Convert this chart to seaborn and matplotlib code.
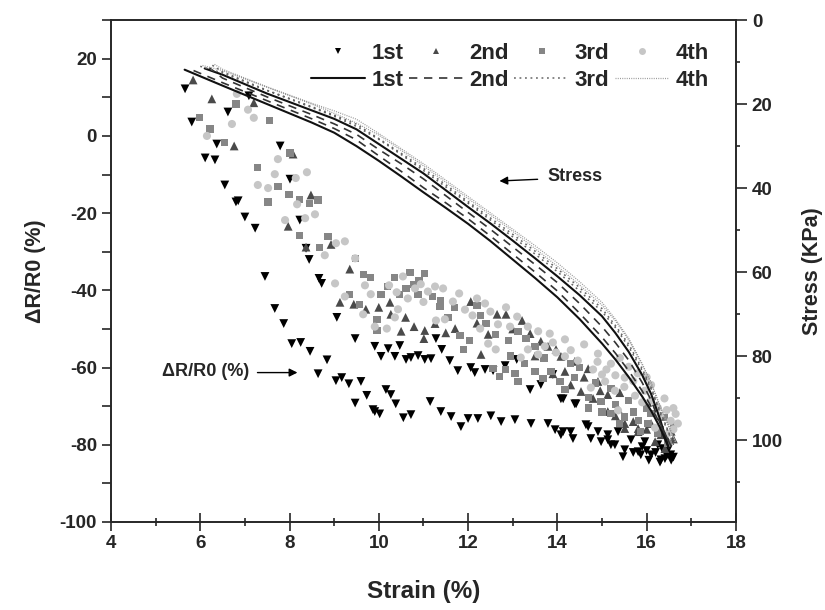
import matplotlib
matplotlib.use("Agg")
import matplotlib.pyplot as plt
from matplotlib.lines import Line2D
from matplotlib.ticker import MultipleLocator
import seaborn as sns
import pandas as pd

# ---------------- data ----------------
# dR/R0 (%) vs strain (%) for four cycles: (strain, dR/R0)
cycle1_pts = [
    (5.66, 12.2), (5.81, 3.6), (6.11, -5.7), (6.33, -6.2), (6.37, -2.1), (6.62, 6.2), (7.09, 10.4),
    (6.55, -12.7), (6.80, -17.1), (6.85, -16.8), (7.00, -21.0), (7.23, -23.9), (7.79, -2.6),
    (8.01, -11.2), (8.23, -21.8), (8.37, -29.1), (8.44, -32.0), (8.66, -36.9), (8.72, -38.2),
    (7.45, -36.4), (7.67, -44.7), (7.87, -48.6), (8.05, -53.8), (8.25, -53.5), (8.46, -55.8),
    (8.64, -61.6), (8.84, -58.0), (9.04, -63.4), (9.17, -62.6), (9.33, -64.2), (9.60, -63.6),
    (9.73, -67.2), (9.47, -69.2), (9.87, -70.9), (10.02, -72.0), (10.16, -65.7), (10.27, -67.0),
    (10.38, -69.4), (9.06, -47.0), (9.47, -52.5), (9.91, -54.5), (10.05, -57.1), (10.21, -55.1),
    (10.36, -57.1), (10.47, -54.3), (10.61, -57.9), (10.72, -57.4), (10.88, -56.9), (11.03, -57.9),
    (11.17, -57.7), (11.28, -52.5), (11.41, -55.3), (11.59, -58.2), (11.77, -60.8), (12.06, -60.0),
    (12.15, -61.3), (12.38, -60.5), (12.56, -60.8), (12.83, -59.5), (13.09, -57.9), (13.39, -65.7),
    (13.63, -64.4), (13.90, -61.8), (14.08, -68.1), (14.13, -68.1), (14.42, -69.4), (14.39, -69.4),
    (14.69, -75.3), (14.91, -76.6), (15.13, -77.4), (15.36, -76.6), (15.65, -78.7), (15.96, -79.2),
    (16.25, -80.0), (16.48, -81.3), (9.91, -71.4), (10.55, -73.0), (10.72, -72.2), (11.15, -68.8),
    (11.39, -71.4), (11.62, -72.7), (11.84, -75.3), (12.00, -73.2), (12.22, -73.2), (12.51, -72.5),
    (12.74, -74.0), (13.05, -73.5), (13.41, -74.5), (13.79, -74.5), (13.95, -76.1), (14.08, -77.4),
    (14.30, -76.6), (14.13, -76.6), (14.35, -78.4), (14.64, -74.8), (14.75, -78.4), (14.98, -79.2),
    (15.13, -78.7), (15.20, -80.0), (15.29, -80.0), (15.47, -83.1), (15.51, -81.3), (15.70, -82.0),
    (15.81, -81.8), (15.87, -82.6), (15.90, -80.5), (16.00, -81.5), (16.05, -84.0), (16.10, -82.6),
    (16.20, -82.0), (16.30, -84.5), (16.32, -83.9), (16.35, -81.0), (16.41, -83.6), (16.45, -82.8),
    (16.54, -82.6), (16.55, -84.0), (16.60, -83.2),
]
cycle2_pts = [
    (5.84, 14.5), (6.26, 9.6), (7.20, 8.6), (6.76, -2.6), (8.08, -4.7), (8.48, -15.3), (7.97, -23.4),
    (8.37, -28.8), (8.93, -28.1), (9.35, -34.5), (9.13, -43.1), (9.44, -43.6), (9.71, -44.9),
    (10.00, -44.4), (10.25, -43.1), (10.27, -46.2), (10.50, -50.6), (10.79, -49.4), (11.03, -50.4),
    (11.01, -52.5), (11.26, -48.6), (11.71, -49.9), (12.06, -42.9), (12.29, -56.6), (12.45, -51.4),
    (12.65, -46.2), (12.85, -46.2), (13.21, -47.8), (13.39, -51.2), (13.63, -53.2), (13.79, -54.5),
    (13.97, -55.3), (14.08, -57.1), (14.17, -61.0), (14.39, -58.4), (14.53, -66.2), (14.69, -60.3),
    (14.91, -63.6), (15.13, -67.0), (15.13, -71.4), (15.36, -70.6), (15.51, -74.5), (15.51, -75.8),
    (15.81, -75.8), (15.81, -76.6), (16.10, -74.5), (16.19, -79.2), (16.32, -77.4), (16.41, -81.0),
    (16.48, -79.0), (13.90, -61.6), (14.30, -64.5), (14.80, -68.0), (15.30, -72.5), (15.70, -74.0),
    (16.00, -76.0), (15.40, -66.5), (14.96, -66.0), (16.55, -76.5), (16.60, -78.5),
    (10.60, -47.0), (11.50, -51.0), (12.20, -48.5), (13.00, -50.0), (13.50, -57.0), (14.60, -62.5),
]
cycle3_pts = [
    (5.99, 4.7), (6.22, 1.8), (6.55, -1.8), (6.80, 8.3), (7.56, 3.9), (7.29, -8.1), (7.74, -13.0),
    (7.99, -15.1), (7.52, -17.1), (8.23, -16.4), (8.44, -17.4), (8.64, -16.6), (8.23, -25.7),
    (8.68, -28.8), (8.86, -26.0), (8.01, -4.4), (9.47, -31.7), (9.65, -35.8), (9.82, -36.6),
    (9.35, -41.0), (9.56, -43.6), (10.05, -41.0), (10.36, -36.6), (10.70, -35.3), (11.03, -35.6),
    (10.77, -38.4), (10.61, -39.5), (10.47, -41.0), (10.88, -41.0), (11.37, -44.2), (9.96, -47.5),
    (9.96, -50.4), (11.39, -42.6), (11.55, -47.0), (11.82, -51.7), (12.04, -53.0), (11.89, -55.3),
    (12.20, -43.9), (12.27, -46.5), (12.62, -51.4), (13.12, -50.6), (13.30, -52.5), (13.50, -54.5),
    (13.27, -59.0), (12.83, -60.5), (13.05, -61.6), (12.56, -60.3), (12.71, -62.3), (13.12, -63.6),
    (13.50, -61.0), (13.68, -62.9), (13.86, -61.0), (14.06, -63.6), (14.17, -65.7), (14.39, -62.6),
    (14.69, -67.7), (14.98, -68.8), (15.31, -69.6), (15.51, -72.8), (15.81, -73.8), (16.03, -74.5),
    (16.25, -77.1), (16.48, -79.7), (15.87, -76.6), (14.50, -60.0), (14.85, -64.0), (15.20, -65.5),
    (15.60, -68.5), (16.00, -70.5), (16.40, -73.0), (16.60, -75.0), (12.95, -57.0),
    (10.20, -39.0), (10.90, -37.5), (11.20, -41.5), (11.70, -44.5), (12.40, -48.5), (12.90, -53.0),
    (13.70, -57.5), (14.30, -59.0), (15.00, -71.5), (15.40, -74.5), (15.70, -71.5), (16.10, -72.0),
    (16.30, -76.0), (15.20, -72.0), (14.70, -70.5),
]
cycle4_pts = [
    (6.82, 10.9), (7.07, 6.8), (7.20, 4.7), (6.71, 3.1), (6.15, 0.0), (7.74, -6.0), (7.67, -9.9),
    (7.29, -12.7), (7.52, -13.5), (8.39, -9.4), (8.14, -10.9), (8.17, -17.7), (8.57, -20.3),
    (8.35, -21.3), (7.90, -21.8), (9.04, -27.8), (9.24, -27.3), (8.79, -30.9), (9.02, -38.2),
    (9.47, -31.7), (9.69, -38.7), (9.24, -41.6), (9.82, -41.0), (9.65, -46.2), (9.91, -49.4),
    (10.18, -49.9), (10.36, -47.0), (10.23, -38.7), (10.54, -36.4), (10.65, -42.1), (10.81, -39.5),
    (10.94, -38.4), (11.10, -40.3), (11.26, -39.0), (11.44, -39.5), (10.43, -44.9), (11.28, -47.8),
    (11.48, -47.5), (11.66, -42.9), (11.93, -45.0), (12.20, -42.1), (12.38, -43.4), (12.85, -44.4),
    (12.67, -48.8), (12.94, -49.4), (12.27, -49.9), (12.45, -53.8), (12.62, -55.3), (13.34, -49.4),
    (13.57, -50.6), (13.83, -51.2), (13.34, -55.3), (13.18, -57.4), (13.57, -56.6), (13.72, -54.5),
    (13.97, -56.1), (14.17, -57.1), (14.17, -52.7), (14.46, -58.2), (14.91, -56.4), (15.20, -59.0),
    (15.51, -62.6), (15.29, -66.0), (15.74, -67.3), (15.96, -66.0), (16.25, -70.4), (16.54, -73.8),
    (16.48, -77.1), (16.19, -75.6), (15.36, -71.1), (15.07, -63.6), (14.75, -65.2), (16.65, -72.0),
    (16.70, -74.5), (16.60, -70.5), (14.60, -54.0), (15.80, -61.5), (16.10, -64.5), (16.40, -68.0),
    (10.40, -40.5), (11.00, -43.0), (11.80, -40.8), (12.10, -46.5), (12.50, -45.5), (13.10, -46.8),
    (13.90, -53.5), (14.30, -55.5), (14.90, -58.5), (15.10, -60.5), (15.30, -62.0), (15.50, -65.0),
    (15.70, -63.5), (15.90, -69.0), (16.10, -68.5), (16.30, -72.5), (16.45, -71.0), (16.60, -76.0),
    (15.00, -61.8), (15.60, -59.8), (14.80, -60.5), (15.40, -57.5), (16.00, -62.5),
]

# Stress (KPa) vs strain (%) hysteresis loops: loading branch then unloading branch
load_strain_mid = [6.5, 7.5, 8.5, 9.0, 9.5, 10, 10.5, 11, 11.5, 12, 12.5, 13, 13.5, 14,
                   14.5, 15, 15.3, 15.6, 15.9, 16.1, 16.3]
unload_strain_mid = [16.3, 16.1, 15.9, 15.6, 15.3, 15, 14.5, 14, 13.5, 13, 12.5, 12, 11.5,
                     11, 10.5, 10, 9.5, 9.0, 8.5, 7.5, 6.5]

stress1_strain = [5.65] + load_strain_mid + [16.5] + unload_strain_mid + [6.1]
stress1 = [11.8, 15.6, 20.0, 24.4, 26.8, 30.0, 33.5, 37.2, 41.0, 44.7, 48.5, 52.6, 57.0, 61.4,
           66.0, 71.2, 77.0, 80.8, 85.0, 89.6, 93.0, 97.0, 102.0,
           95.0, 89.0, 84.5, 79.0, 74.5, 70.5, 65.5, 61.0, 56.7, 52.5, 48.4, 44.5, 40.5,
           36.5, 33.0, 29.5, 26.0, 23.5, 21.5, 17.5, 13.0, 11.5]
stress2_strain = [5.85] + load_strain_mid + [16.55] + unload_strain_mid + [6.2]
stress2 = [12.0, 14.9, 19.2, 23.5, 25.8, 28.5, 32.3, 36.0, 39.9, 43.5, 47.3, 51.4, 55.7, 60.0,
           64.5, 69.8, 75.5, 79.3, 83.5, 88.3, 92.0, 96.2, 101.5,
           96.0, 90.5, 86.3, 81.0, 76.8, 73.0, 67.5, 62.5, 58.2, 54.0, 49.8, 45.8, 41.8,
           37.8, 34.2, 30.8, 27.2, 24.7, 22.5, 18.3, 13.8, 11.3]
stress3_strain = [6.0] + load_strain_mid + [16.6] + unload_strain_mid + [6.25]
stress3 = [11.0, 12.6, 16.8, 20.8, 22.9, 25.3, 28.4, 32.0, 35.8, 39.7, 43.6, 47.6, 51.6, 55.7,
           59.9, 64.5, 69.4, 73.2, 77.8, 83.5, 87.8, 93.5, 101.0,
           93.0, 87.5, 83.0, 77.2, 72.7, 68.7, 63.7, 59.2, 55.0, 51.0, 47.1, 43.2, 39.2,
           35.3, 31.7, 28.2, 24.8, 22.6, 20.6, 16.7, 12.3, 10.6]
stress4_strain = [6.05] + load_strain_mid + [16.65] + unload_strain_mid + [6.3]
stress4 = [10.8, 12.0, 16.0, 20.0, 22.2, 24.5, 27.4, 31.0, 34.7, 38.6, 42.5, 46.4, 50.3, 54.4,
           58.6, 63.1, 67.9, 71.6, 76.2, 82.0, 86.3, 92.0, 100.5,
           91.8, 86.5, 81.8, 75.8, 71.2, 67.2, 62.3, 57.8, 53.7, 49.8, 45.9, 42.0, 38.1,
           34.2, 30.6, 27.0, 23.6, 21.6, 19.8, 15.9, 11.7, 10.4]

cycle_labels = ["1st", "2nd", "3rd", "4th"]
marker_colors = ["#000000", "#4a4a4a", "#868686", "#c6c6c6"]
markers = ["v", "^", "s", "o"]
marker_sizes = [40, 40, 27, 34]
line_colors = ["#111111", "#333333", "#666666", "#9a9a9a"]
line_styles = ["-", (0, (5, 4)), (0, (1.2, 2.4)), (0, (0.8, 1.0))]
line_widths = [1.5, 1.2, 1.1, 0.9]

# ---------------- style ----------------
sns.set_style("ticks")
plt.rcParams["font.family"] = ["Liberation Sans", "DejaVu Sans"]
plt.rcParams["font.weight"] = "bold"
plt.rcParams["axes.linewidth"] = 1.2
plt.rcParams["axes.unicode_minus"] = False

fig = plt.figure(figsize=(8.25, 6.1), dpi=100)
ax = fig.add_axes([0.1345, 0.1443, 0.7575, 0.8227])
ax2 = ax.twinx()

# scatter series
for pts, col, mk, sz in zip([cycle1_pts, cycle2_pts, cycle3_pts, cycle4_pts],
                            marker_colors, markers, marker_sizes):
    df = pd.DataFrame(pts, columns=["strain", "dr"])
    sns.scatterplot(data=df, x="strain", y="dr", marker=mk, color=col, s=sz,
                    edgecolor="none", linewidth=0, ax=ax, legend=False, zorder=3)

# stress loops
for xs, ys, col, ls, lw in zip([stress1_strain, stress2_strain, stress3_strain, stress4_strain],
                               [stress1, stress2, stress3, stress4],
                               line_colors, line_styles, line_widths):
    df = pd.DataFrame({"strain": xs, "stress": ys})
    sns.lineplot(data=df, x="strain", y="stress", sort=False, estimator=None,
                 color=col, linewidth=lw, ax=ax2, legend=False)
    ax2.lines[-1].set_linestyle(ls)

# axes limits / ticks
ax.set_xlim(4, 18)
ax.set_ylim(-100, 30)
ax2.set_ylim(119.5, 0)

ax.set_xticks([4, 6, 8, 10, 12, 14, 16, 18])
ax.xaxis.set_minor_locator(MultipleLocator(1))
ax.set_yticks([-100, -80, -60, -40, -20, 0, 20])
ax.yaxis.set_minor_locator(MultipleLocator(10))
ax2.set_yticks([0, 20, 40, 60, 80, 100])
ax2.yaxis.set_minor_locator(MultipleLocator(10))

ax.tick_params(axis="x", which="major", direction="inout", length=13, width=1.2,
               labelsize=13.5, top=False, pad=3)
ax.tick_params(axis="x", which="minor", direction="inout", length=6, width=1.2, top=False)
ax.tick_params(axis="y", which="both", direction="out", length=6.5, width=1.2,
               labelsize=13.5, right=False)
ax2.tick_params(axis="y", which="major", direction="out", length=8, width=1.2, labelsize=13.5)
ax2.tick_params(axis="y", which="minor", direction="out", length=3, width=1.2)

for a in (ax, ax2):
    for lab in a.get_xticklabels() + a.get_yticklabels():
        lab.set_fontweight("bold")
    for sp in a.spines.values():
        sp.set_linewidth(1.2)
        sp.set_visible(True)

ax.set_xlabel("Strain (%)", fontsize=17.5, fontweight="bold", labelpad=20)
ax.set_ylabel("ΔR/R0 (%)", fontsize=15.5, fontweight="bold", labelpad=10)
ax2.set_ylabel("Stress (KPa)", fontsize=15.5, fontweight="bold", labelpad=14)

# annotations
ax.annotate("", xy=(12.64, -11.7), xytext=(13.62, -11.2),
            arrowprops=dict(arrowstyle="-|>", color="black", lw=1.0, mutation_scale=12))
ax.text(13.78, -10.4, "Stress", fontsize=13, fontweight="bold", va="center", ha="left")
ax.annotate("", xy=(8.24, -61.3), xytext=(7.22, -61.3),
            arrowprops=dict(arrowstyle="-|>", color="black", lw=1.0, mutation_scale=12))
ax.text(7.10, -61.0, "ΔR/R0 (%)", fontsize=13, fontweight="bold", va="center", ha="right")

# legend: row 1 markers, row 2 lines
handles, labels = [], []
for lab, col, mk, lcol, ls, lw in zip(cycle_labels, marker_colors, markers,
                                      line_colors, line_styles, line_widths):
    handles.append(Line2D([], [], marker=mk, color=col, linestyle="none",
                          markersize=5, markeredgewidth=0))
    labels.append(lab)
    handles.append(Line2D([], [], color=lcol, linestyle=ls, linewidth=lw))
    labels.append(lab)
leg = ax2.legend(handles, labels, ncol=4, frameon=False, loc="upper left",
                 bbox_to_anchor=(0.295, 0.985), handlelength=2.45, handletextpad=0.27,
                 columnspacing=0.25, labelspacing=0.27, borderpad=0.2,
                 prop={"weight": "bold", "size": 16})

fig.savefig("out.png", dpi=100)
